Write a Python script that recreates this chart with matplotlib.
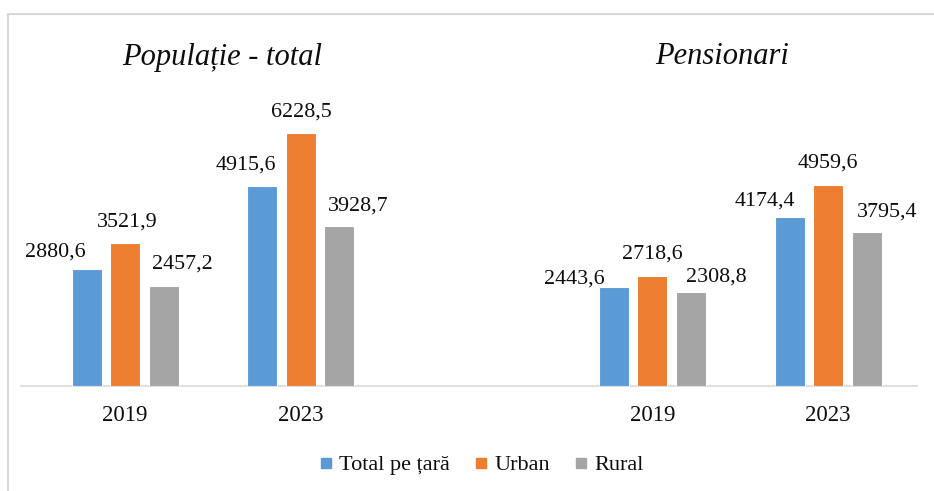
import matplotlib
matplotlib.use("Agg")
import matplotlib.pyplot as plt
from matplotlib.lines import Line2D
from matplotlib.patches import Rectangle

plt.rcParams['font.family'] = ['Liberation Serif', 'DejaVu Serif']

# ---- data ----
categories = ["2019", "2023", "", "2019", "2023"]
positions = [0, 1, 3, 4]
tick_labels = ["2019", "2023", "2019", "2023"]
series_names = ["Total pe țară", "Urban", "Rural"]
total = [2880.6, 4915.6, 2443.6, 4174.4]
urban = [3521.9, 6228.5, 2718.6, 4959.6]
rural = [2457.2, 3928.7, 2308.8, 3795.4]
group_titles = ["Populație - total", "Pensionari"]

colors = ["#5B9BD5", "#ED7D31", "#A5A5A5"]
txt_color = "#0d0d0d"

W, H = 934, 491
fig = plt.figure(figsize=(W / 100, H / 100), dpi=100)

ax_left, ax_right, ax_bottom, ax_top = 21, 917, 386, 20
ax = fig.add_axes([ax_left / W, 1 - ax_bottom / H,
                   (ax_right - ax_left) / W, (ax_bottom - ax_top) / H])

px_per_unit = 175.8
ax.set_xlim(-104 / px_per_unit, (917 - 125) / px_per_unit)
ax.set_ylim(0, (ax_bottom - ax_top) / 0.0406)

bw = 30 / px_per_unit
off = 38.5 / px_per_unit

# label offsets in pixels (dx, dy) per series per group
label_offsets = [
    [(-31, 17), (-16, 21), (-40, 8), (-25, 15)],
    [(2, 21), (1, 21), (0, 22), (0, 22)],
    [(19, 22), (19, 20), (25, 15), (20, 20)],
]

for s, (vals, col) in enumerate(zip([total, urban, rural], colors)):
    xs = [p + (s - 1) * off for p in positions]
    ax.bar(xs, vals, width=bw, color=col, edgecolor="white", linewidth=0.8, zorder=3)
    for i, (x, v) in enumerate(zip(xs, vals)):
        dx, dy = label_offsets[s][i]
        ax.annotate(f"{v:.1f}".replace(".", ","), xy=(x, v),
                    xytext=(dx * 0.72, dy * 0.72), textcoords="offset points",
                    ha="center", va="center", fontsize=15.8, color=txt_color)

ax.set_xticks(positions)
ax.set_xticklabels(tick_labels, fontsize=16.5, color=txt_color)
ax.tick_params(axis="x", length=0, pad=14)
ax.set_yticks([])
for sp in ["top", "left", "right"]:
    ax.spines[sp].set_visible(False)
ax.spines["bottom"].set_color("#D9D9D9")
ax.spines["bottom"].set_linewidth(1.2)

# titles
fig.text(222 / W, 1 - 57 / H, group_titles[0], ha="center", va="center",
         fontsize=22, style="italic", color=txt_color)
fig.text(722 / W, 1 - 57 / H, group_titles[1], ha="center", va="center",
         fontsize=22, style="italic", color=txt_color)

# legend
handles = [Line2D([0], [0], marker="s", linestyle="none", markersize=6.5,
                  markerfacecolor=c, markeredgecolor=c) for c in colors]
fig.legend(handles, series_names, loc="center", bbox_to_anchor=(482 / W, 1 - 465 / H),
           ncol=3, frameon=False, fontsize=16, handlelength=0.5, handletextpad=0.35,
           columnspacing=1.15, borderpad=0, labelcolor=txt_color)

# outer border
fig.patches.append(Rectangle((8 / W, -0.1), 1.2, 1 - 14 / H + 0.1,
                             transform=fig.transFigure, fill=False,
                             edgecolor="#D9D9D9", linewidth=1.5))

fig.savefig("out.png", dpi=100)
